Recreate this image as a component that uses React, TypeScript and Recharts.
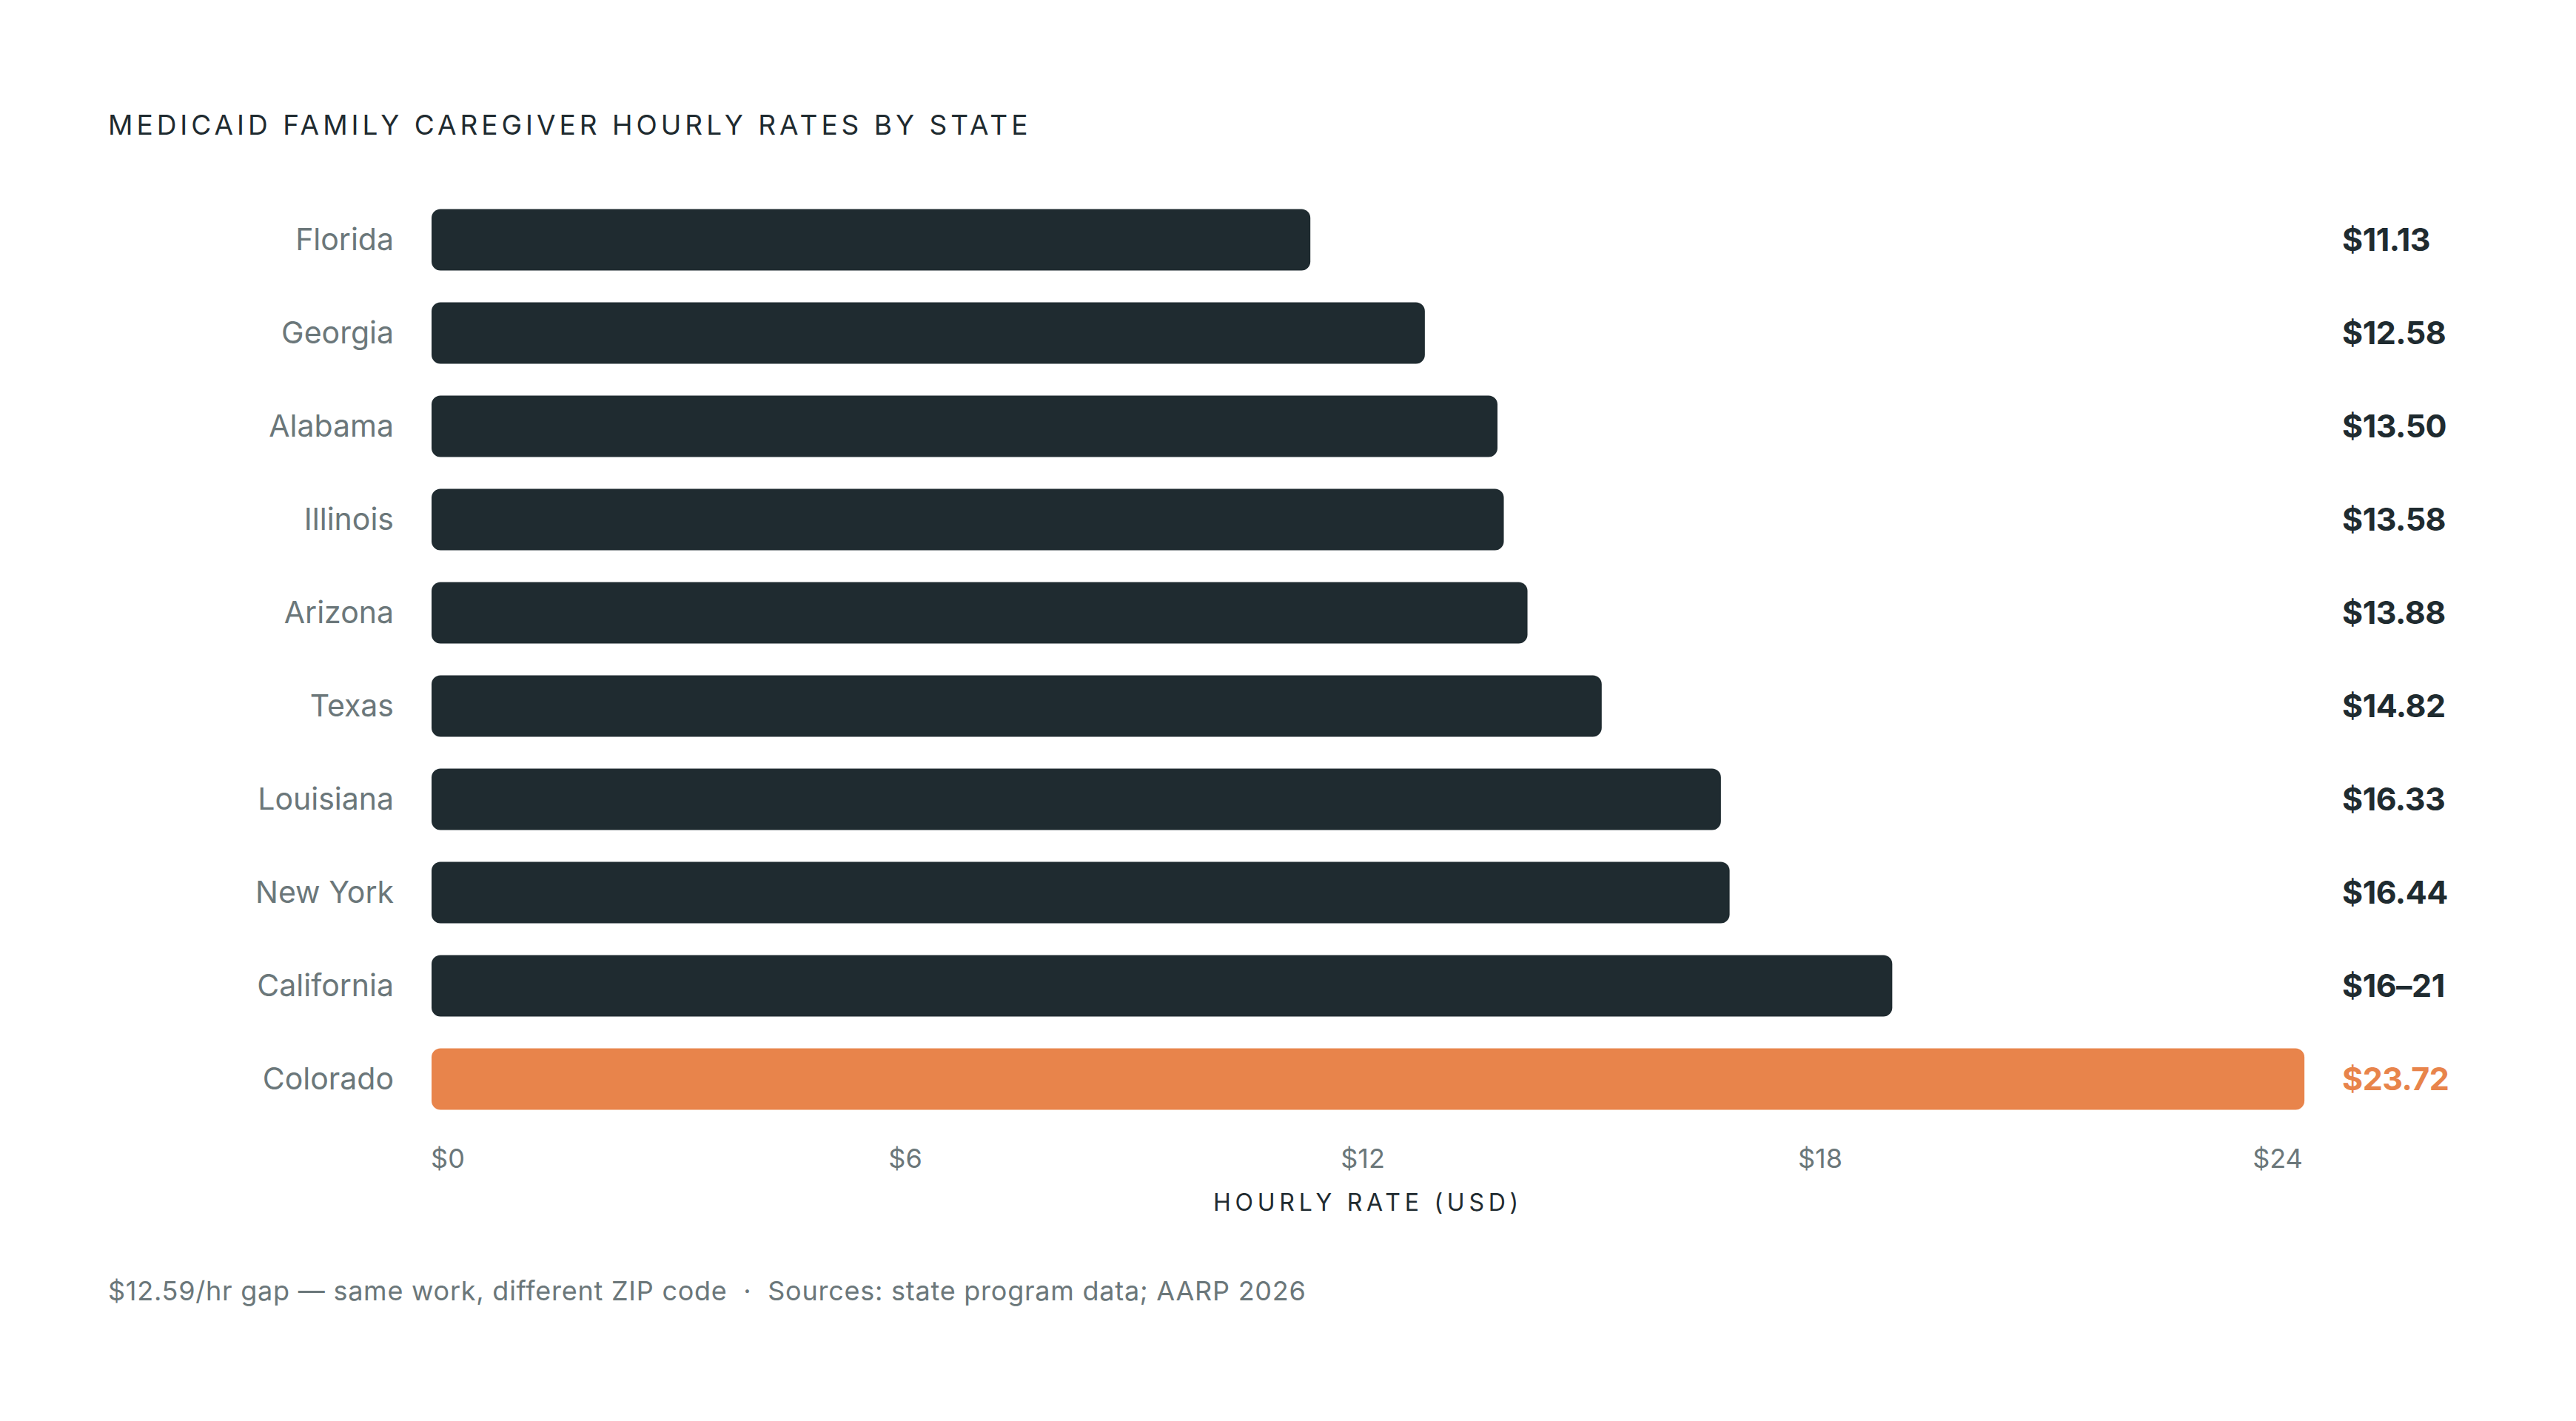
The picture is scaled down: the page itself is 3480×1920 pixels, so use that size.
import React from 'react'
import { BarChart, Bar, XAxis, YAxis, Cell } from 'recharts'

const states = ['Florida', 'Georgia', 'Alabama', 'Illinois', 'Arizona', 'Texas', 'Louisiana', 'New York', 'California', 'Colorado']
const rates = [11.13, 12.58, 13.5, 13.58, 13.88, 14.82, 16.33, 16.44, 18.5, 23.72]
const rateLabels = ['$11.13', '$12.58', '$13.50', '$13.58', '$13.88', '$14.82', '$16.33', '$16.44', '$16–21', '$23.72']
const highlightState = 'Colorado'
const xTicks = [0, 6, 12, 18, 24]
const xTickLabels = ['$0', '$6', '$12', '$18', '$24']

const FONT = 'Inter, "Noto Sans", sans-serif'
const DARK = '#1f2b30'
const ORANGE = '#e8844b'
const GREY = '#6b777a'

const PLOT_LEFT = 583
const PLOT_WIDTH = 2560

const data = states.map((state, i) => ({ state, rate: rates[i], label: rateLabels[i] }))

function XTick(props: any) {
  const { x, y, index } = props
  // tick labels are spread across the bar track, first and last sit flush with it
  const cx = PLOT_LEFT + 22 + (x - PLOT_LEFT) * (2472 / PLOT_WIDTH)
  return (
    <text x={cx} y={y} dy="0.71em" textAnchor="middle" fill={GREY} fontSize={36} fontFamily={FONT}>
      {xTickLabels[index]}
    </text>
  )
}

function ValueTick(props: any) {
  const { x, y, payload, index } = props
  const hot = states[index] === highlightState
  return (
    <text x={x + 21} y={y} dy="0.355em" textAnchor="start" fill={hot ? ORANGE : DARK} fontSize={43} fontWeight={700} fontFamily={FONT} letterSpacing={-0.5}>
      {payload.value}
    </text>
  )
}

export default function App() {
  return (
    <div style={{ position: 'absolute', left: 0, top: 0, width: 3480, height: 1920, background: '#fff', fontFamily: FONT }}>
      <div
        style={{
          position: 'absolute', left: 146, top: 150, fontSize: 37, lineHeight: '37px',
          letterSpacing: '0.135em', color: DARK, whiteSpace: 'nowrap',
        }}
      >
        MEDICAID FAMILY CAREGIVER HOURLY RATES BY STATE
      </div>

      <div style={{ position: 'absolute', left: 0, top: 0 }}>
        <BarChart
          width={3480}
          height={1920}
          data={data}
          layout="vertical"
          margin={{ top: 260.5, right: 0, bottom: 339.5, left: 0 }}
        >
          <XAxis
            type="number"
            domain={[0, 24]}
            ticks={xTicks}
            interval={0}
            axisLine={false}
            tickLine={false}
            tickSize={0}
            tickMargin={32}
            height={60}
            tick={XTick}
          />
          <YAxis
            yAxisId="left"
            type="category"
            dataKey="state"
            width={583}
            axisLine={false}
            tickLine={false}
            tickSize={0}
            tickMargin={51}
            interval={0}
            tick={{ fill: GREY, fontSize: 41, fontFamily: FONT }}
          />
          <YAxis
            yAxisId="right"
            orientation="right"
            type="category"
            dataKey="label"
            width={337}
            axisLine={false}
            tickLine={false}
            tickSize={0}
            tickMargin={0}
            interval={0}
            tick={ValueTick}
          />
          <Bar yAxisId="left" dataKey="rate" barSize={83} radius={12} isAnimationActive={false}>
            {data.map((d) => (
              <Cell key={d.state} fill={d.state === highlightState ? ORANGE : DARK} />
            ))}
          </Bar>
        </BarChart>
      </div>

      <div
        style={{
          position: 'absolute', left: PLOT_LEFT, top: 1609, width: 2530, textAlign: 'center',
          fontSize: 32, lineHeight: '32px', letterSpacing: '0.18em', color: DARK, whiteSpace: 'nowrap',
        }}
      >
        HOURLY RATE (USD)
      </div>

      <div
        style={{
          position: 'absolute', left: 146, top: 1726, fontSize: 36, lineHeight: '36px',
          letterSpacing: '0.021em', color: GREY, whiteSpace: 'pre',
        }}
      >
        {'$12.59/hr gap — same work, different ZIP code  ·  Sources: state program data; AARP 2026'}
      </div>
    </div>
  )
}
